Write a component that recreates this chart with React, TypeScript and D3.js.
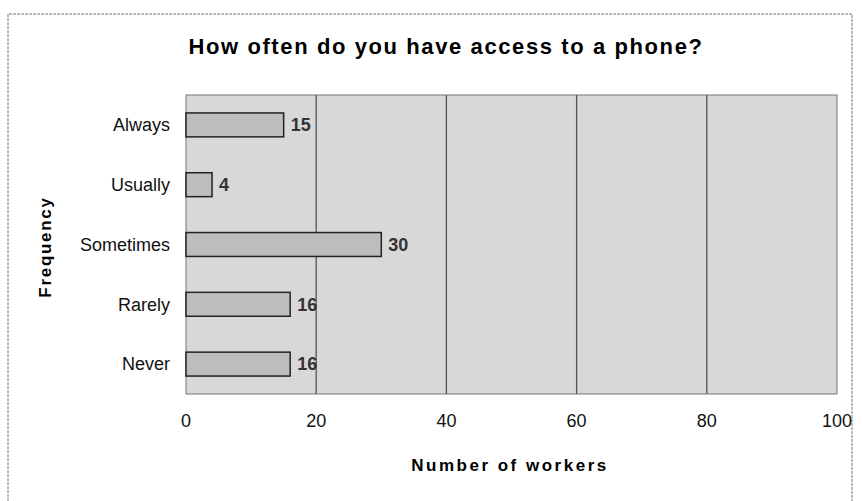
import React from "react";
import * as d3 from "d3";

const categories = ["Always", "Usually", "Sometimes", "Rarely", "Never"];
const values = [15, 4, 30, 16, 16];
const xTicks = [0, 20, 40, 60, 80, 100];
const title = "How often do you have access to a phone?";
const xTitle = "Number of workers";
const yTitle = "Frequency";

export default function App() {
  const W = 862, H = 501;
  const left = 186, right = 837, top = 95, bottom = 394;
  const x = d3.scaleLinear().domain([0, 100]).range([left, right]);
  const y = d3.scaleBand().domain(categories).range([top, bottom]).paddingInner(0.6).paddingOuter(0.3);
  const font = "Arial, 'Liberation Sans', sans-serif";
  return (
    <svg width={W} height={H} style={{ position: "absolute", left: 0, top: 0 }} fontFamily={font}>
      <rect x={0} y={0} width={W} height={H} fill="#fff" />
      <path d={`M8,${H} V14 H852 V${H}`} fill="none" stroke="#777" strokeWidth={1} strokeDasharray="3,1" />
      <text x={446} y={54} textAnchor="middle" fontSize={22} fontWeight="bold" letterSpacing={1.6}>{title}</text>
      <rect x={left} y={top} width={right - left} height={bottom - top} fill="#d8d8d8" stroke="#777" strokeWidth={1} />
      {xTicks.slice(1, -1).map((t) => (
        <line key={t} x1={x(t)} x2={x(t)} y1={top} y2={bottom} stroke="#555" strokeWidth={1.3} />
      ))}
      {categories.map((c, i) => (
        <g key={c}>
          <rect x={x(0)} y={y(c)!} width={x(values[i]) - x(0)} height={y.bandwidth()} fill="#bdbdbd" stroke="#222" strokeWidth={1.5} />
          <text x={x(values[i]) + 7} y={y(c)! + y.bandwidth() / 2} dy="0.35em" fontSize={18} fontWeight="bold" fill="#333">{values[i]}</text>
          <text x={170} y={y(c)! + y.bandwidth() / 2} dy="0.35em" textAnchor="end" fontSize={18} fill="#111">{c}</text>
        </g>
      ))}
      {xTicks.map((t) => (
        <text key={t} x={x(t)} y={421} dy="0.35em" textAnchor="middle" fontSize={18} fill="#111">{t}</text>
      ))}
      <text x={510} y={471} textAnchor="middle" fontSize={17} fontWeight="bold" letterSpacing={2.5}>{xTitle}</text>
      <text transform={`translate(51,247) rotate(-90)`} textAnchor="middle" fontSize={17} fontWeight="bold" letterSpacing={1.7}>{yTitle}</text>
    </svg>
  );
}
